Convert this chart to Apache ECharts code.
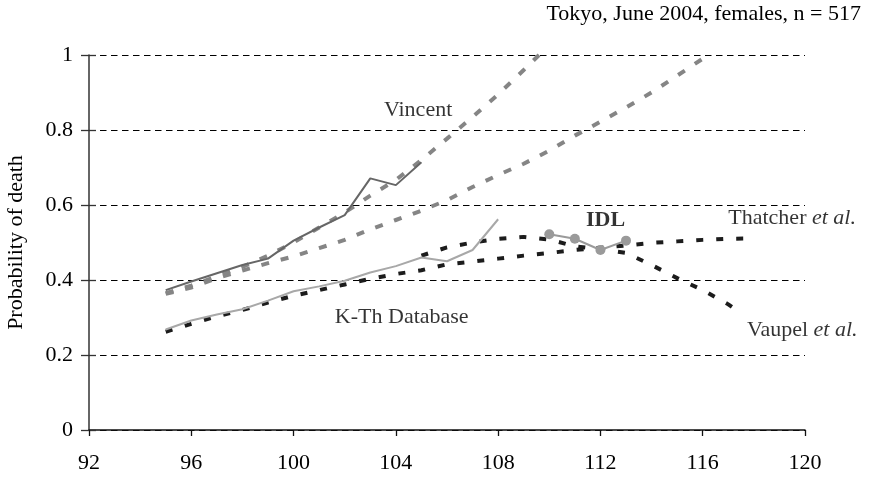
<!DOCTYPE html>
<html>
<head>
<meta charset="utf-8">
<script src="https://cdn.jsdelivr.net/npm/echarts@6/dist/echarts.min.js"></script>
<style>
  html, body { margin: 0; padding: 0; background: #fff; }
  #chart { width: 872px; height: 477px; }
</style>
</head>
<body>
<div id="chart"></div>
<script>
// Probability of death by age, Tokyo females, several estimates.
const xTicks = [92, 96, 100, 104, 108, 112, 116, 120];
const yTicks = [0, 0.2, 0.4, 0.6, 0.8, 1];

// Vincent method, observed (solid)
const vincentObsAges = [95, 96, 97, 98, 99, 100, 101, 102, 103, 104, 105];
const vincentObsVals = [0.373, 0.396, 0.418, 0.44, 0.457, 0.505, 0.54, 0.573, 0.671, 0.653, 0.714];

// Vincent fitted (steep dashed)
const vincentFitAges = [95, 96, 97, 98, 99, 100, 101, 102, 103, 104, 105, 106, 107, 108, 109, 109.6];
const vincentFitVals = [0.365, 0.385, 0.41, 0.435, 0.465, 0.5, 0.54, 0.58, 0.625, 0.667, 0.72, 0.777, 0.835, 0.895, 0.96, 1.0];

// Second fitted curve (shallower dashed)
const fit2Ages = [95, 96, 97, 98, 99, 100, 101, 102, 103, 104, 105, 106, 107, 108, 109, 110, 111, 112, 113, 114, 115, 116];
const fit2Vals = [0.363, 0.38, 0.405, 0.425, 0.445, 0.463, 0.485, 0.507, 0.535, 0.56, 0.585, 0.613, 0.648, 0.68, 0.71, 0.745, 0.785, 0.822, 0.86, 0.9, 0.945, 0.99];

// K-Th Database, observed (solid)
const kthAges = [95, 96, 97, 98, 99, 100, 101, 102, 103, 104, 105, 106, 107, 108];
const kthVals = [0.268, 0.292, 0.308, 0.322, 0.345, 0.37, 0.383, 0.398, 0.42, 0.437, 0.46, 0.45, 0.48, 0.562];

// Thatcher et al. model (dashed)
const thatcherAges = [95, 96, 97, 98, 99, 100, 101, 102, 103, 104, 105, 106, 107, 108, 109, 110, 111, 112, 113, 114, 115, 116, 117, 118];
const thatcherVals = [0.262, 0.283, 0.303, 0.32, 0.34, 0.358, 0.373, 0.388, 0.403, 0.416, 0.426, 0.442, 0.449, 0.457, 0.465, 0.472, 0.48, 0.486, 0.492, 0.499, 0.503, 0.507, 0.51, 0.511];

// Vaupel et al. model (dashed)
const vaupelAges = [105, 106, 107, 108, 109, 110, 111, 112, 113, 114, 115, 116, 117, 117.5];
const vaupelVals = [0.465, 0.487, 0.5, 0.51, 0.515, 0.508, 0.49, 0.482, 0.472, 0.44, 0.405, 0.373, 0.335, 0.312];

// International Database on Longevity (points)
const idlAges = [110, 111, 112, 113];
const idlVals = [0.522, 0.51, 0.48, 0.505];

// Series annotations: [age, probability, text, alignment]
const annotations = [
  [104.87, 0.853, 'Vincent', 'center'],
  [104.23, 0.300, 'K-Th Database', 'center'],
  [112.2, 0.560, '{b|IDL}', 'center'],
  [117.0, 0.565, 'Thatcher {i|et al.}', 'left'],
  [117.73, 0.267, 'Vaupel {i|et al.}', 'left']
];

const FONT = '"Liberation Serif", "Times New Roman", serif';
const zip = (a, b) => a.map((x, i) => [x, b[i]]);

function dashed(name, ages, vals, color, dash) {
  return {
    name, type: 'line', data: zip(ages, vals), showSymbol: false, symbol: 'none',
    lineStyle: { color, width: 4, type: dash, cap: 'butt' }, z: 3, silent: true
  };
}
function solid(name, ages, vals, color, width) {
  return {
    name, type: 'line', data: zip(ages, vals), showSymbol: false, symbol: 'none',
    lineStyle: { color, width }, z: 4, silent: true
  };
}

const chart = echarts.init(document.getElementById('chart'), null, { renderer: 'canvas' });

const yCommon = {
  type: 'value', min: yTicks[0], max: yTicks[yTicks.length - 1], interval: 0.2
};

chart.setOption({
  animation: false,
  backgroundColor: '#ffffff',
  textStyle: { fontFamily: FONT },
  title: {
    text: 'Tokyo, June 2004, females, n = 517',
    right: 6, top: -2,
    textStyle: { fontFamily: FONT, fontSize: 22, fontWeight: 'normal', color: '#000' }
  },
  grid: { left: 89, right: 67, top: 55, bottom: 47, containLabel: false, outerBoundsMode: 'none' },
  xAxis: {
    type: 'value', min: xTicks[0], max: xTicks[xTicks.length - 1], interval: 4,
    axisLine: { lineStyle: { color: '#111', width: 1.5 } },
    axisTick: { show: true, length: 6, inside: false, lineStyle: { color: '#111', width: 1.3 } },
    axisLabel: { fontFamily: FONT, fontSize: 22, color: '#000', margin: 22 },
    splitLine: { show: false }
  },
  yAxis: [
    Object.assign({}, yCommon, {
      name: 'Probability of death', nameLocation: 'middle', nameGap: 62,
      nameTextStyle: { fontFamily: FONT, fontSize: 22, color: '#000' },
      axisLine: { show: true, lineStyle: { color: '#333', width: 1.5 } },
      axisTick: { show: true, length: 8, lineStyle: { color: '#333', width: 1.3 } },
      axisLabel: { fontFamily: FONT, fontSize: 22, color: '#000', margin: 16 },
      splitLine: { show: true, lineStyle: { color: '#000', width: 1, type: [6.5, 4.5] } }
    }),
    Object.assign({}, yCommon, {
      position: 'left',
      axisLine: { show: false },
      axisTick: { show: true, inside: true, length: 7, lineStyle: { color: '#333', width: 1.3 } },
      axisLabel: { show: false },
      splitLine: { show: false }
    })
  ],
  series: [
    dashed('Thatcher et al.', thatcherAges, thatcherVals, '#1c1c1c', [7, 13]),
    dashed('Vaupel et al.', vaupelAges, vaupelVals, '#1c1c1c', [7, 13]),
    dashed('Fit (shallow)', fit2Ages, fit2Vals, '#858585', [8, 12]),
    dashed('Vincent fit', vincentFitAges, vincentFitVals, '#858585', [8, 12]),
    solid('K-Th Database', kthAges, kthVals, '#a8a8a8', 2),
    solid('Vincent', vincentObsAges, vincentObsVals, '#666666', 2),
    {
      name: 'IDL', type: 'line', data: zip(idlAges, idlVals),
      symbol: 'circle', symbolSize: 10, showSymbol: true,
      itemStyle: { color: '#9a9a9a' },
      lineStyle: { color: '#9a9a9a', width: 2 }, z: 5, silent: true
    },
    {
      name: 'labels', type: 'scatter', symbolSize: 0, silent: true, z: 6,
      data: annotations.map(a => ({
        value: [a[0], a[1]],
        label: {
          show: true, position: 'inside', formatter: a[2], align: a[3],
          verticalAlign: 'middle',
          fontFamily: FONT, fontSize: 22, color: '#000',
          rich: {
            i: { fontFamily: FONT, fontSize: 22, fontStyle: 'italic', color: '#000' },
            b: { fontFamily: FONT, fontSize: 22, fontWeight: 'bold', color: '#000' }
          }
        }
      }))
    }
  ]
});
</script>
</body>
</html>
